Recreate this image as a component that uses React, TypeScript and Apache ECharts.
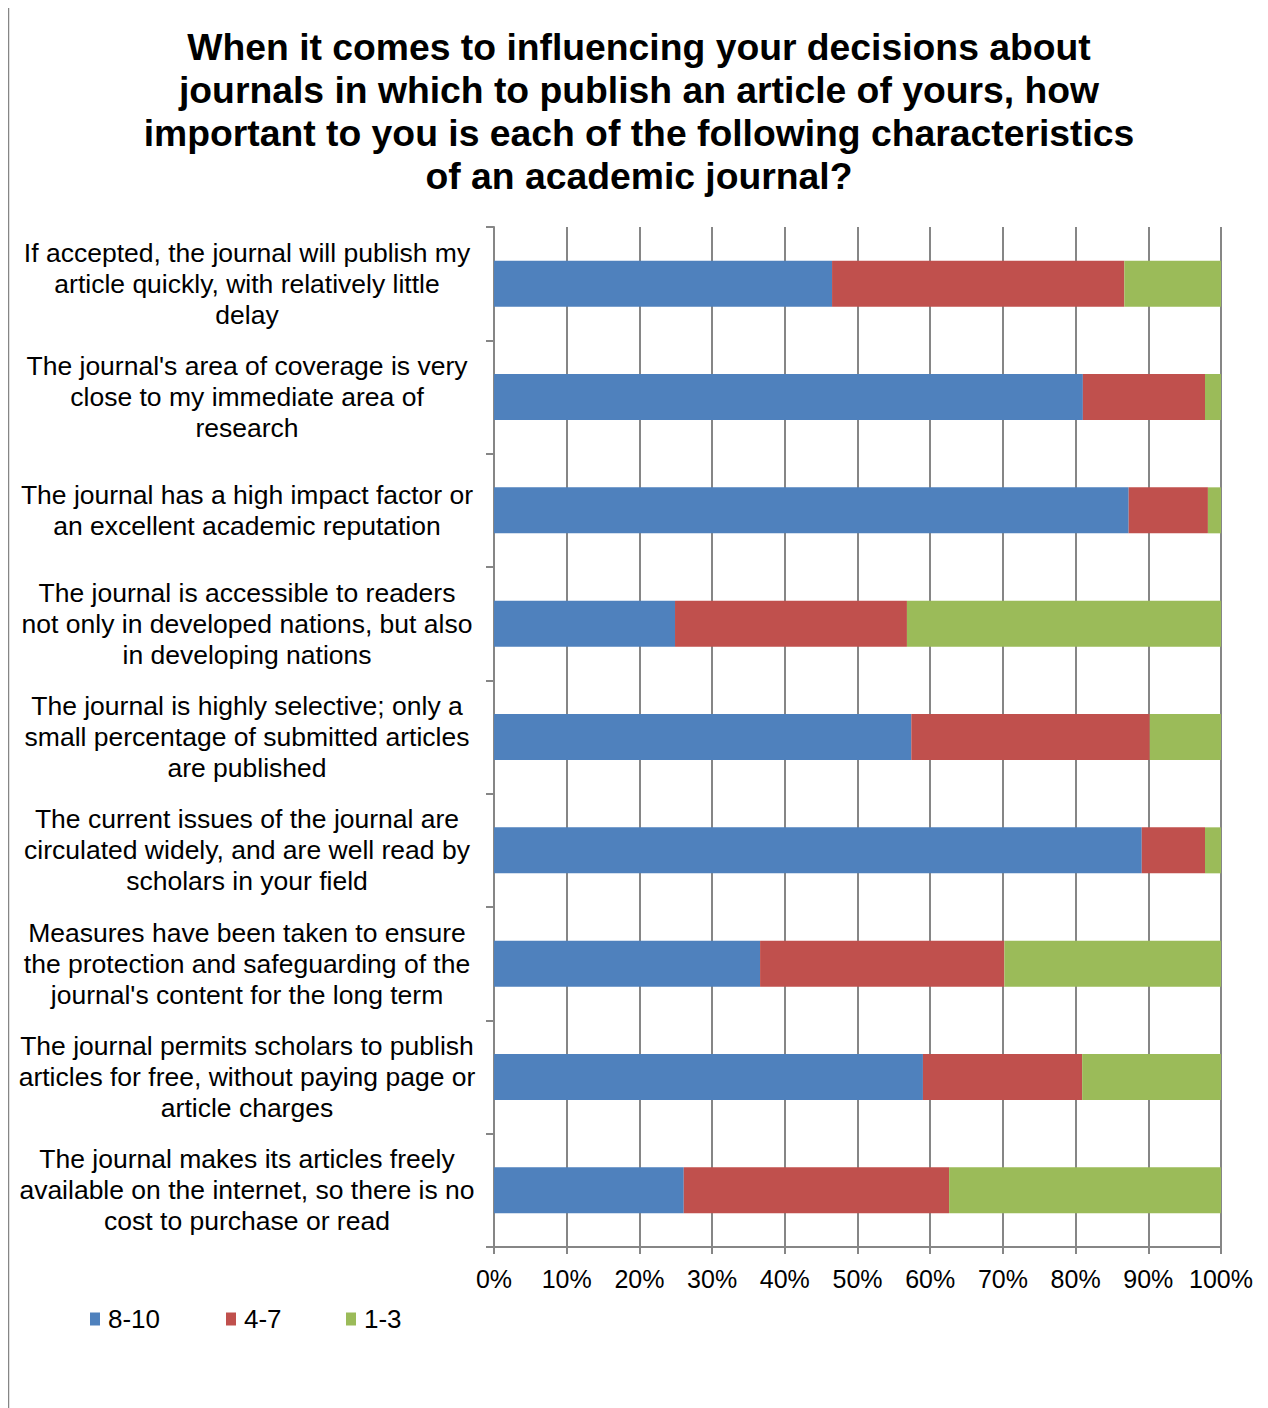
import React, { useEffect, useRef } from "react";
import * as echarts from "echarts";

const titleText =
  "When it comes to influencing your decisions about\njournals in which to publish an article of yours, how\nimportant to you is each of the following characteristics\nof an academic journal?";

const categories = [
  "If accepted, the journal will publish my\narticle quickly, with relatively little\ndelay",
  "The journal's area of coverage is very\nclose to my immediate area of\nresearch",
  "The journal has a high impact factor or\nan excellent academic reputation",
  "The journal is accessible to readers\nnot only in developed nations, but also\nin developing nations",
  "The journal is highly selective; only a\nsmall percentage of submitted articles\nare published",
  "The current issues of the journal are\ncirculated widely, and are well read by\nscholars in your field",
  "Measures have been taken to ensure\nthe protection and safeguarding of the\njournal's content for the long term",
  "The journal permits scholars to publish\narticles for free, without paying page or\narticle charges",
  "The journal makes its articles freely\navailable on the internet, so there is no\ncost to purchase or read",
];

const high = [46.5, 81.0, 87.3, 24.9, 57.4, 89.1, 36.6, 59.0, 26.1];
const mid = [40.2, 16.8, 10.9, 31.9, 32.8, 8.7, 33.6, 21.9, 36.5];
const low = [13.3, 2.2, 1.8, 43.2, 9.8, 2.2, 29.8, 19.1, 37.4];

const seriesNames = ["8-10", "4-7", "1-3"];
const colors = ["#4F81BD", "#C0504D", "#9BBB59"];

export default function App() {
  const ref = useRef<HTMLDivElement>(null);
  useEffect(() => {
    if (!ref.current) return;
    const chart = echarts.init(ref.current, undefined, { renderer: "svg" });
    const font = "Liberation Sans, Arial, sans-serif";
    const data = [high, mid, low];
    const legendLefts = [82, 218, 338];
    chart.setOption({
      animation: false,
      backgroundColor: "#ffffff",
      textStyle: { fontFamily: font },
      legend: seriesNames.map((n, i) => ({
        left: legendLefts[i],
        top: 1300,
        padding: 0,
        itemWidth: 10,
        itemHeight: 13,
        itemGap: 0,
        icon: "rect",
        textStyle: { fontFamily: font, fontSize: 26, color: "#000", padding: [0, 0, 0, 3] },
        data: [n],
      })),
      grid: { left: 486, right: 47, top: 221, bottom: 161, containLabel: false },
      xAxis: {
        type: "value",
        min: 0,
        max: 100,
        interval: 10,
        axisLine: { show: true, lineStyle: { color: "#868686", width: 2 } },
        axisTick: { show: true, length: 7, lineStyle: { color: "#868686", width: 2 } },
        splitLine: { show: true, lineStyle: { color: "#868686", width: 2 } },
        axisLabel: {
          formatter: "{value}%",
          fontFamily: font,
          fontSize: 25,
          color: "#000",
          margin: 19,
          showMinLabel: true,
          showMaxLabel: true,
        },
      },
      yAxis: {
        type: "category",
        inverse: true,
        data: categories,
        axisLine: { show: true, lineStyle: { color: "#868686", width: 2 } },
        axisTick: { show: true, length: 8, lineStyle: { color: "#868686", width: 2 } },
        axisLabel: {
          fontFamily: font,
          fontSize: 26.5,
          color: "#000",
          lineHeight: 31,
          align: "center",
          margin: 247,
          interval: 0,
        },
      },
      graphic: [
        { type: "line", shape: { x1: 0.5, y1: 0, x2: 0.5, y2: 1402 }, style: { stroke: "#868686", lineWidth: 1.5 } },
        { type: "line", shape: { x1: 0, y1: 0.5, x2: 1260, y2: 0.5 }, style: { stroke: "#868686", lineWidth: 1.5 } },
        {
          type: "text",
          x: 631,
          y: 19,
          style: {
            text: titleText,
            fontFamily: font,
            fontSize: 37.3,
            fontWeight: "bold",
            fill: "#000",
            lineHeight: 43,
            align: "center",
            textAlign: "center",
          },
        },
      ],
      series: seriesNames.map((name, i) => ({
        name,
        type: "bar",
        stack: "total",
        barWidth: 46,
        data: data[i],
        itemStyle: { color: colors[i] },
      })),
    });
    return () => chart.dispose();
  }, []);
  return <div ref={ref} style={{ width: 1260, height: 1402, marginTop: -2 }} />;
}
